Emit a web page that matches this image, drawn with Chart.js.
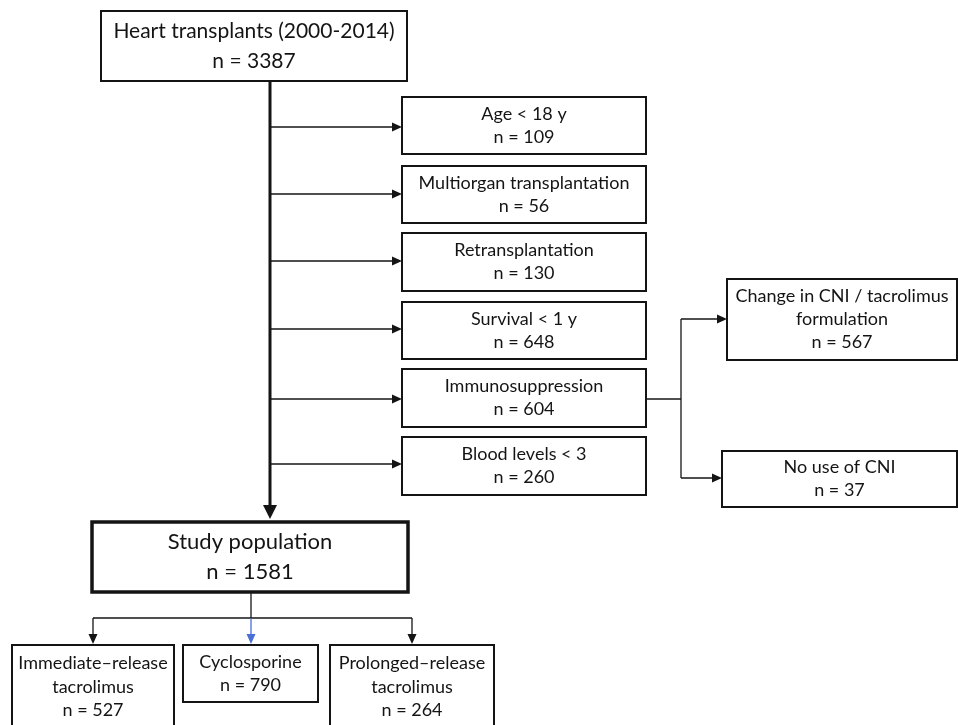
<!DOCTYPE html>
<html>
<head>
<meta charset="utf-8">
<script src="https://cdn.jsdelivr.net/npm/chart.js@4.4.1/dist/chart.umd.min.js"></script>
<style>
  html, body { margin: 0; padding: 0; background: #ffffff; }
  #wrap { width: 958px; height: 725px; }
</style>
</head>
<body>
<div id="wrap"><canvas id="flow" width="958" height="725"></canvas></div>
<script>
// --- data -------------------------------------------------------------
const totalLabel = ['Heart transplants (2000-2014)'];
const totalCount = 3387;
const exclusionLabels = [
    ['Age < 18 y'],
    ['Multiorgan transplantation'],
    ['Retransplantation'],
    ['Survival < 1 y'],
    ['Immunosuppression'],
    ['Blood levels < 3']
];
const exclusionCounts = [109, 56, 130, 648, 604, 260];
const immunoLabels = [['Change in CNI / tacrolimus', 'formulation'], ['No use of CNI']];
const immunoCounts = [567, 37];
const studyLabel = ['Study population'];
const studyCount = 1581;
const groupLabels = [['Immediate\u2013release', 'tacrolimus'], ['Cyclosporine'], ['Prolonged\u2013release', 'tacrolimus']];
const groupCounts = [527, 790, 264];

// --- layout (scale units = page pixels) -------------------------------
const totalBox = [101, 11, 407, 81];
const exclusionBoxes = [
    [402, 97, 646, 154],
    [402, 166, 646, 223],
    [402, 233, 646, 291],
    [402, 302, 646, 359],
    [402, 369, 646, 427],
    [402, 437, 646, 495]
];
const exclusionArrowY = [127, 194, 261, 329, 399, 464];
const immunoBoxes = [[727, 279, 957, 360], [722, 451, 957, 507]];
const immunoArrowY = [319, 478];
const studyBox = [92, 522, 408, 592];
const groupBoxes = [[12, 645, 174, 729], [183, 645, 318, 702], [330, 645, 494, 729]];
const mainX = 270;
const splitX = 681;
const groupBusY = 618;

const FONT = 'Lato, "Open Sans", sans-serif';
const INK = '#141414';

// invisible points at the centre of every box, so each box is a data point
const allBoxes = [totalBox, ...exclusionBoxes, ...immunoBoxes, studyBox, ...groupBoxes];
const centres = allBoxes.map(b => ({ x: (b[0] + b[2]) / 2, y: (b[1] + b[3]) / 2 }));

const flowPlugin = {
    id: 'flow',
    afterDatasetsDraw(chart) {
        const ctx = chart.ctx;
        const sx = v => chart.scales.x.getPixelForValue(v);
        const sy = v => chart.scales.y.getPixelForValue(v);

        function line(x0, y0, x1, y1, w, color) {
            ctx.save();
            ctx.strokeStyle = color || INK;
            ctx.lineWidth = w;
            ctx.beginPath();
            ctx.moveTo(sx(x0), sy(y0));
            ctx.lineTo(sx(x1), sy(y1));
            ctx.stroke();
            ctx.restore();
        }

        // arrow head pointing at (x, y) in direction dir: 'right' or 'down'
        function head(x, y, dir, len, half, color) {
            const px = sx(x), py = sy(y);
            ctx.save();
            ctx.fillStyle = color || INK;
            ctx.beginPath();
            if (dir === 'right') {
                ctx.moveTo(px, py);
                ctx.lineTo(px - len, py - half);
                ctx.lineTo(px - len, py + half);
            } else {
                ctx.moveTo(px, py);
                ctx.lineTo(px - half, py - len);
                ctx.lineTo(px + half, py - len);
            }
            ctx.closePath();
            ctx.fill();
            ctx.restore();
        }

        function box(b, lines, size, spacing, border) {
            const x0 = sx(b[0]), y0 = sy(b[1]), x1 = sx(b[2]), y1 = sy(b[3]);
            ctx.save();
            ctx.fillStyle = '#ffffff';
            ctx.fillRect(x0, y0, x1 - x0, y1 - y0);
            ctx.strokeStyle = INK;
            ctx.lineWidth = border;
            ctx.strokeRect(x0, y0, x1 - x0, y1 - y0);
            ctx.fillStyle = INK;
            ctx.font = size + 'px ' + FONT;
            ctx.textAlign = 'center';
            ctx.textBaseline = 'middle';
            const cx = (x0 + x1) / 2, cy = (y0 + y1) / 2;
            const start = cy - spacing * (lines.length - 1) / 2;
            lines.forEach((t, i) => ctx.fillText(t, cx, start + i * spacing));
            ctx.restore();
        }

        // main trunk
        line(mainX, totalBox[3], mainX, studyBox[1] - 12, 3);
        head(mainX, studyBox[1] - 3, 'down', 14, 7);

        // exclusion arrows
        exclusionArrowY.forEach(y => {
            line(mainX, y, exclusionBoxes[0][0] - 8, y, 1.3);
            head(exclusionBoxes[0][0], y, 'right', 10, 4.5);
        });

        // immunosuppression split
        const immY = exclusionArrowY[4];
        line(exclusionBoxes[4][2], immY, splitX, immY, 1.3);
        line(splitX, immunoArrowY[0], splitX, immunoArrowY[1], 1.3);
        immunoArrowY.forEach((y, i) => {
            line(splitX, y, immunoBoxes[i][0] - 8, y, 1.3);
            head(immunoBoxes[i][0], y, 'right', 10, 4.5);
        });

        // groups from study population
        const studyMidX = (studyBox[0] + studyBox[2]) / 2 + 1;
        line(studyMidX, studyBox[3], studyMidX, groupBusY, 1.3);
        const groupX = [93, studyMidX, 412];
        line(groupX[0], groupBusY, groupX[2], groupBusY, 1.3);
        groupX.forEach((x, i) => {
            const col = i === 1 ? '#4a6fd6' : INK;
            line(x, groupBusY, x, groupBoxes[i][1] - 8, 1.3, col);
            head(x, groupBoxes[i][1] - 1, 'down', 10, 4.5, col);
        });

        // boxes
        box(totalBox, [...totalLabel, 'n = ' + totalCount], 21, 30, 2);
        exclusionBoxes.forEach((b, i) =>
            box(b, [...exclusionLabels[i], 'n = ' + exclusionCounts[i]], 18, 23, 2));
        immunoBoxes.forEach((b, i) =>
            box(b, [...immunoLabels[i], 'n = ' + immunoCounts[i]], 18, 23, 2));
        box(studyBox, [...studyLabel, 'n = ' + studyCount], 22, 30, 3.5);
        groupBoxes.forEach((b, i) =>
            box(b, [...groupLabels[i], 'n = ' + groupCounts[i]], 18, 23.5, 2));
    }
};

new Chart(document.getElementById('flow'), {
    type: 'scatter',
    data: {
        datasets: [{
            data: centres,
            pointRadius: 0,
            pointHoverRadius: 0
        }]
    },
    options: {
        responsive: false,
        animation: false,
        layout: { padding: 0 },
        plugins: { legend: { display: false }, tooltip: { enabled: false } },
        scales: {
            x: { type: 'linear', min: 0, max: 958, display: false },
            y: { type: 'linear', min: 0, max: 725, reverse: true, display: false }
        }
    },
    plugins: [flowPlugin]
});
</script>
</body>
</html>
